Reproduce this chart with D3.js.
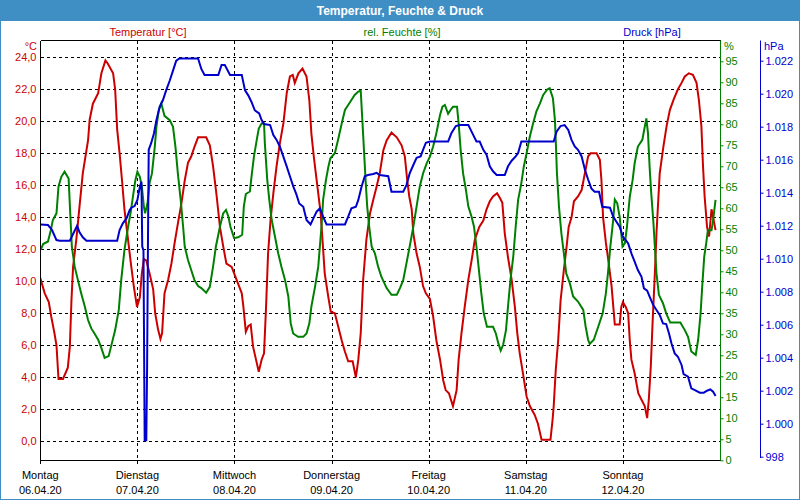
<!DOCTYPE html>
<html><head><meta charset="utf-8">
<script src="https://cdn.jsdelivr.net/npm/d3@7"></script>
<style>
html,body{margin:0;padding:0;background:#fff;}
svg{display:block;font-family:"Liberation Sans",Arial,sans-serif;}
</style></head>
<body>
<svg id="chart" width="800" height="500"></svg>
<script>
// ---- data (hours since Mon 06.04.20 00:00) ----
const dayNames = ["Montag","Dienstag","Mittwoch","Donnerstag","Freitag","Samstag","Sonntag"];
const dayDates = ["06.04.20","07.04.20","08.04.20","09.04.20","10.04.20","11.04.20","12.04.20"];
const tempTicks = [0,2,4,6,8,10,12,14,16,18,20,22,24];
const humTicks = [0,5,10,15,20,25,30,35,40,45,50,55,60,65,70,75,80,85,90,95];
const presTicks = [998,1000,1002,1004,1006,1008,1010,1012,1014,1016,1018,1020,1022];

const tempHours = [0,1.1,2.1,2.7,3.5,4,4.5,5.6,6.8,7.3,7.7,8.1,8.9,9.7,10.5,11.8,12.2,13,14.3,15.1,16.1,16.7,18,18.5,19,19.6,20.2,20.8,21.5,22.3,23.1,23.9,24.6,25.1,25.6,26.2,27,27.9,28.4,29.1,29.7,30.1,30.7,31.6,32.4,33.2,34,34.9,35.7,36.5,37.3,38.1,39,41,41.9,42.7,43.6,44.4,45.2,46,47.3,48.5,49.8,50.2,50.8,51.4,52,52.6,53.5,54,54.7,55.3,55.8,56.3,56.9,57.6,58.4,59.2,60.1,60.9,61.7,62.4,62.9,63.8,64.8,65.8,66.5,67,67.6,68.1,68.7,69.3,69.8,70.3,71.2,71.8,72.8,73.6,74.5,75.3,76.1,77.2,78,78.6,79.2,79.8,80.6,81.5,82.3,83.1,83.9,84.8,85.6,86.8,88.1,89.3,90.1,90.7,91.2,91.8,92.2,93,93.8,94.6,95.3,96.3,97.1,97.9,98.8,99.6,100.2,101,101.5,102,102.9,103.4,104.1,104.9,105.8,106.6,107.4,108.5,109.5,110.3,111.1,111.9,112.9,113.6,114.2,114.8,115.6,116.5,117.3,117.9,118.5,119.3,120.2,121,122.2,123,123.9,126.1,126.6,126.9,127.4,128,128.6,129.4,130.1,130.6,131.3,131.9,132.9,133.8,134.6,135.4,136,137.5,138.3,138.7,139.1,139.8,140.3,141.2,141.7,142,143.2,143.6,144,144.7,145.3,145.7,146.1,146.9,147.8,148.6,149.4,150,150.4,150.9,151.3,151.9,152.3,153.1,154,154.8,155.6,156.6,157.6,158.5,159.3,160.3,161.3,162.2,162.8,163.4,163.8,164.2,164.8,165.3,165.9,166.3,166.9];
const tempValues = [10.2,9.25,8.7,7.8,6.75,6.0,3.9,3.9,4.6,5.9,8.8,10.9,12.6,14.7,16.75,18.8,20.1,21.1,21.75,23.0,23.8,23.6,23.0,22.0,19.5,18.0,16.3,14.5,13.0,11.3,9.7,8.4,9.0,10.5,11.4,11.3,10.5,9.5,8.0,7.0,6.4,6.75,9.25,10.1,11.1,12.4,13.6,14.9,16.3,17.4,17.8,18.4,19.0,19.0,18.5,17.2,15.3,13.4,12.2,11.1,10.9,10.1,9.25,8.4,6.85,7.2,7.3,5.9,4.9,4.35,5.1,5.5,8.4,11.75,13.8,15.5,17.2,18.6,19.9,21.75,22.8,22.9,22.4,23.0,23.3,22.8,21.3,19.25,17.8,16.75,15.5,14.25,12.4,10.5,9.0,8.1,8.0,7.2,6.3,5.6,5.0,5.0,4.0,5.1,6.75,10.1,12.6,14.25,15.1,15.9,16.75,18.2,18.8,19.3,19.0,18.5,17.8,16.3,15.3,14.5,13.0,11.75,10.9,9.7,9.25,8.9,7.8,6.3,5.1,3.8,3.2,3.0,2.6,2.2,3.2,5.1,6.75,8.4,10.1,11.3,12.6,13.4,13.8,14.5,15.0,15.3,15.5,15.2,14.9,13.0,11.5,10.1,8.4,6.75,5.5,4.25,2.8,2.2,1.65,1.1,0.1,0.1,1.3,2.2,4.45,6.3,8.8,10.7,12.2,13.4,14.0,15.0,15.3,15.7,16.75,17.8,18.0,18.0,17.6,16.3,14.0,12.4,11.5,9.7,8.2,7.3,7.3,8.4,8.7,8.4,8.0,6.3,5.1,4.25,3.0,2.6,2.2,1.45,2.6,4.7,7.2,10.5,13.0,16.75,18.4,19.7,20.7,21.4,22.0,22.4,22.8,23.0,22.9,22.4,21.3,19.7,17.2,15.3,13.4,12.8,14.5,14.0,13.2];

const humHours = [0.1,0.7,1.9,2.6,3.1,4,4.5,5.2,6,7,7.4,7.8,8.5,9.3,10.1,11,11.8,12.6,13.4,14.3,15.1,15.9,16.9,17.7,18.5,19.4,20,20.8,21.7,22.3,22.9,23.5,24,24.6,25.1,25.6,25.9,26.5,27,27.6,28.3,28.7,29.3,29.9,30.7,32,32.8,33.4,34,34.7,35.3,35.7,36.5,37.3,38.1,39,39.8,41,41.9,42.7,43.4,44.4,45.2,45.9,46.5,47,47.9,48.9,49.9,50.3,50.8,51.8,52.2,52.8,53.5,54,54.7,55.3,55.5,56.1,56.6,57.2,58,58.8,59.6,60.5,61.3,61.9,62.5,63.7,65,65.8,66.5,67,67.9,68.7,69.1,69.5,69.9,70.6,71.2,71.7,72.8,73.6,74.5,75.3,76.1,76.9,77.7,78.6,79.2,79.6,80,80.4,80.8,81.3,81.9,82.7,83.5,84.3,85.6,86.8,88.1,88.9,89.7,90.5,91.3,92.2,93,93.8,94.6,95.5,96.3,97.1,97.9,98.8,99.4,100,100.8,101.4,102,103,103.4,103.9,104.5,105.2,105.8,106.6,107.2,107.8,108.5,109,109.6,110.4,111.9,112.6,113.2,113.8,114.4,115.1,115.6,116.2,116.9,117.5,118.1,118.9,119.5,120.2,121,121.8,122.6,123.5,124.3,125.3,125.9,126.7,127.2,127.4,127.7,128.2,128.8,129.4,130,130.9,131.7,132.9,134.2,134.8,135.4,135.8,136.8,137.9,139,139.8,140.3,140.9,141.6,142,142.6,143.2,143.6,143.9,144.5,145,145.7,146.4,146.9,147.7,148.8,149.4,149.8,150.2,150.6,151,151.5,151.9,152.3,152.9,153.9,154.7,155.7,158.2,159.3,160.1,160.9,162,162.6,163.2,163.6,164.1,164.6,165,165.9,166.3,166.9];
const humValues = [50.1,51.5,52.1,54.8,57.2,58.8,65.2,67.5,68.7,67.1,58.8,50.9,46.1,42.9,39.8,36.6,33.4,31.4,30.2,28.7,26.7,24.4,24.8,27.9,31.0,35.8,42.9,50.1,55.6,58.8,62.8,66.7,68.7,67.5,65.2,60.4,58.8,61.2,66.0,68.3,74.7,79.4,83.4,85.0,82.0,81.0,79.4,74.7,68.3,62.0,55.6,50.9,47.7,45.3,42.9,41.5,41.0,39.9,41.3,46.1,50.9,55.6,58.8,59.6,58.0,55.6,52.9,53.1,53.7,60.4,63.4,64.0,67.5,72.3,76.3,79.0,80.2,80.2,75.5,66.7,62.0,57.2,53.3,49.3,46.1,42.9,39.0,32.6,30.2,29.4,29.4,30.2,32.6,36.6,41.3,46.1,50.9,55.6,62.0,66.7,69.9,71.9,73.1,76.3,80.2,83.4,84.6,85.8,87.0,87.8,88.0,81.0,73.9,66.7,60.4,55.6,50.9,49.3,46.1,43.7,41.0,39.4,39.4,41.0,42.9,46.9,50.9,55.6,60.4,65.2,68.3,70.7,72.3,74.7,77.9,82.2,84.2,84.6,82.5,83.4,84.2,84.2,80.2,73.9,68.3,64.4,60.4,58.0,55.6,50.9,44.5,39.8,35.0,31.8,31.8,30.2,27.9,26.1,27.5,31.0,36.6,42.9,48.5,55.6,62.0,66.0,69.9,73.1,77.1,80.2,83.0,85.0,87.0,88.3,88.6,86.2,81.0,76.3,68.3,60.4,54.0,49.3,44.5,42.1,39.0,37.8,35.8,31.8,28.7,27.7,28.7,31.8,35.0,39.8,44.5,50.9,57.2,62.1,61.2,58.0,54.0,50.9,51.7,55.6,62.8,66.7,70.7,74.7,76.3,79.4,81.4,77.9,69.9,63.6,57.2,50.9,44.5,39.4,37.4,35.0,32.8,32.8,31.0,29.4,25.9,25.1,28.7,35.0,41.3,48.5,51.7,54.8,54.8,57.2,62.0];

const presHours = [0.1,1.9,2.9,4,4.8,7.3,8.1,9.1,9.7,10.5,11.4,19,19.6,20.4,21.3,22.1,22.5,23.3,24,24.6,25,25.2,25.5,25.8,26.2,26.4,26.6,26.8,27.4,28.1,28.7,29.5,30.3,31.1,32,32.8,33.6,34.4,39,39.8,40.6,44,44.8,45.6,46.9,49.8,50.6,51.4,52.2,53,54.1,54.7,55.3,56.8,57.6,58.4,59.2,60.05,60.9,61.7,62.5,63.3,64,65,65.8,66.8,67.5,68.3,69.1,69.9,70.75,75.3,76.1,76.9,78,78.6,79.4,80.2,81,82.3,83.1,83.9,86,86.8,89.7,90.5,91.3,92.2,93,94,94.6,95.3,96.3,100.8,101.6,102.7,103.7,105.8,106.6,107.8,108.6,109.5,110.3,111.1,111.9,112.8,114.8,115.6,116.5,117.5,118.1,118.9,126.9,127.6,128.6,129.6,130.5,131.3,132.1,132.9,133.8,134.6,135.4,136.2,137,138.1,138.9,140.8,141.6,142.4,143.2,144,144.7,145.3,146.1,146.9,147.7,148.6,149.2,150,150.6,151.5,152.3,153.1,153.9,154.7,155.4,156,156.8,157.6,158.5,159,160.1,160.9,161.8,163,164,164.8,165.6,166.3,166.9];
const presValues = [1012.08,1012.04,1011.74,1011.13,1011.09,1011.09,1011.5,1012.0,1011.6,1011.3,1011.09,1011.09,1011.74,1012.14,1012.44,1012.95,1013.09,1013.19,1013.56,1014.36,1014.67,1010.73,1010.5,999.0,999.0,1003.45,1010.7,1016.6,1017.0,1017.6,1018.4,1019.2,1019.6,1020.2,1020.8,1021.4,1022.0,1022.14,1022.14,1021.5,1021.13,1021.13,1021.74,1021.74,1021.13,1021.13,1020.2,1019.9,1019.5,1019.0,1018.8,1018.4,1018.16,1018.1,1017.5,1017.2,1016.8,1016.2,1015.6,1015.0,1014.4,1013.9,1013.35,1013.15,1012.35,1012.08,1012.44,1012.85,1013.05,1012.55,1012.08,1012.08,1012.55,1013.05,1013.15,1013.56,1014.36,1015.0,1015.07,1015.13,1015.2,1015.07,1015.0,1014.06,1014.06,1014.46,1015.17,1015.68,1016.12,1016.2,1016.6,1017.03,1017.1,1017.1,1017.6,1018.04,1018.1,1018.1,1017.7,1017.1,1017.1,1016.6,1016.3,1015.6,1015.3,1015.07,1015.07,1015.6,1015.94,1016.2,1016.4,1017.1,1017.1,1017.7,1018.04,1018.1,1017.8,1017.2,1016.8,1016.6,1016.2,1015.4,1014.8,1014.26,1014.06,1014.06,1013.15,1013.09,1012.55,1012.24,1011.94,1011.33,1011.13,1010.93,1010.32,1009.82,1009.31,1008.9,1008.2,1008.06,1007.7,1007.19,1006.89,1006.59,1006.08,1006.04,1005.47,1004.87,1004.26,1004.06,1003.56,1003.0,1002.85,1002.14,1002.04,1001.88,1001.88,1002.0,1002.08,1001.94,1001.68];

// ---- layout ----
const W = 800, H = 500;
const L = 40.5, R = 720.5, T = 40.5, B = 460.5;
const red = "#cc0000", green = "#008000", blue = "#0000cc", frameBlue = "#3f8fc5";

const svg = d3.select("#chart");
const x = d3.scaleLinear().domain([0, 168]).range([40.3, 720]);
const yT = d3.scaleLinear().domain([0, 24]).range([441.3, 57.3]);
const yH = d3.scaleLinear().domain([0, 95]).range([460.3, 61.3]);
const yP = d3.scaleLinear().domain([998, 1022]).range([456.7, 60.7]);

const de = d3.formatLocale({decimal: ",", thousands: ".", grouping: [3], currency: ["", " €"]});
const fT = de.format(".1f");
const fP = de.format(",d");

// frame + title bar
svg.append("rect").attr("x", 0.5).attr("y", 0.5).attr("width", W - 1).attr("height", H - 1)
  .attr("fill", "#fff").attr("stroke", frameBlue).attr("stroke-width", 1);
svg.append("rect").attr("x", 0).attr("y", 0).attr("width", W).attr("height", 21).attr("fill", frameBlue);
svg.append("text").attr("x", 400).attr("y", 15).attr("text-anchor", "middle")
  .attr("fill", "#fff").attr("font-weight", "bold").attr("font-size", 12)
  .text("Temperatur, Feuchte & Druck");

// series headings
svg.append("text").attr("x", 148).attr("y", 36).attr("text-anchor", "middle").attr("font-size", 11).attr("fill", red).text("Temperatur [°C]");
svg.append("text").attr("x", 402).attr("y", 36).attr("text-anchor", "middle").attr("font-size", 11).attr("fill", green).text("rel. Feuchte [%]");
svg.append("text").attr("x", 652).attr("y", 36).attr("text-anchor", "middle").attr("font-size", 11).attr("fill", blue).text("Druck [hPa]");

// horizontal grid (temperature ticks)
const grid = svg.append("g");
grid.selectAll("line.h").data(tempTicks).join("line")
  .attr("x1", L).attr("x2", R)
  .attr("y1", d => Math.round(yT(d)) + 0.5).attr("y2", d => Math.round(yT(d)) + 0.5)
  .attr("stroke", "#000").attr("stroke-dasharray", "3,3").attr("shape-rendering", "crispEdges");
// vertical day grid
grid.selectAll("line.v").data(d3.range(1, 7)).join("line")
  .attr("x1", d => Math.round(x(d * 24)) + 0.5).attr("x2", d => Math.round(x(d * 24)) + 0.5)
  .attr("y1", T).attr("y2", B + 3)
  .attr("stroke", "#000").attr("stroke-dasharray", "3,3").attr("shape-rendering", "crispEdges");

// left temperature axis
const axT = svg.append("g").attr("transform", `translate(${L},0)`)
  .call(d3.axisLeft(yT).tickValues(tempTicks).tickFormat(fT).tickSize(0).tickPadding(4));
axT.select(".domain").remove();
axT.selectAll("text").attr("fill", red).attr("font-size", 11).attr("font-family", "Liberation Sans, Arial, sans-serif");
svg.append("text").attr("x", 37).attr("y", 50).attr("text-anchor", "end").attr("font-size", 11).attr("fill", red).text("°C");

// lines (clipped)
svg.append("clipPath").attr("id", "clip").append("rect").attr("x", L).attr("y", T).attr("width", R - L).attr("height", B - T);
const plot = svg.append("g").attr("clip-path", "url(#clip)");
function drawLine(hours, vals, yScale, color) {
  const pts = hours.map((h, i) => [h, vals[i]]);
  plot.append("path").datum(pts)
    .attr("fill", "none").attr("stroke", color).attr("stroke-width", 2).attr("stroke-linejoin", "miter")
    .attr("d", d3.line().x(d => x(d[0])).y(d => yScale(d[1])));
}
drawLine(tempHours, tempValues, yT, red);
drawLine(humHours, humValues, yH, green);
drawLine(presHours, presValues, yP, blue);

// frame lines
svg.append("line").attr("x1", L).attr("x2", R).attr("y1", T).attr("y2", T).attr("stroke", "#000").attr("shape-rendering", "crispEdges");
svg.append("line").attr("x1", L).attr("x2", L).attr("y1", T).attr("y2", B + 3).attr("stroke", "#000").attr("shape-rendering", "crispEdges");
svg.append("line").attr("x1", L).attr("x2", R).attr("y1", B).attr("y2", B).attr("stroke", "#000").attr("shape-rendering", "crispEdges");

// right humidity axis
const axH = svg.append("g").attr("transform", `translate(${R},0)`)
  .call(d3.axisRight(yH).tickValues(humTicks).tickSize(3).tickPadding(2).tickSizeOuter(0));
axH.select(".domain").attr("d", `M0,${T}V${B}`).attr("stroke", green);
axH.selectAll(".tick line").attr("stroke", green);
axH.selectAll("text").attr("fill", green).attr("font-size", 11).attr("font-family", "Liberation Sans, Arial, sans-serif");
svg.append("text").attr("x", 724).attr("y", 50).attr("font-size", 11).attr("fill", green).text("%");

// pressure axis
const PX = 760.5;
const axP = svg.append("g").attr("transform", `translate(${PX},0)`)
  .call(d3.axisRight(yP).tickValues(presTicks).tickFormat(fP).tickSize(3).tickPadding(2).tickSizeOuter(0));
axP.select(".domain").attr("d", `M0,${T}V${458}`).attr("stroke", blue);
axP.selectAll(".tick line").attr("stroke", blue);
axP.selectAll("text").attr("fill", blue).attr("font-size", 11).attr("font-family", "Liberation Sans, Arial, sans-serif");
svg.append("text").attr("x", 764).attr("y", 50).attr("font-size", 11).attr("fill", blue).text("hPa");

// day labels
const days = svg.append("g");
days.selectAll("text.n").data(dayNames).join("text")
  .attr("x", (d, i) => x(i * 24)).attr("y", 479).attr("text-anchor", "middle").attr("font-size", 11).attr("fill", "#000").text(d => d);
days.selectAll("text.d").data(dayDates).join("text")
  .attr("x", (d, i) => x(i * 24)).attr("y", 494).attr("text-anchor", "middle").attr("font-size", 11).attr("fill", "#000").text(d => d);
</script>
</body></html>
